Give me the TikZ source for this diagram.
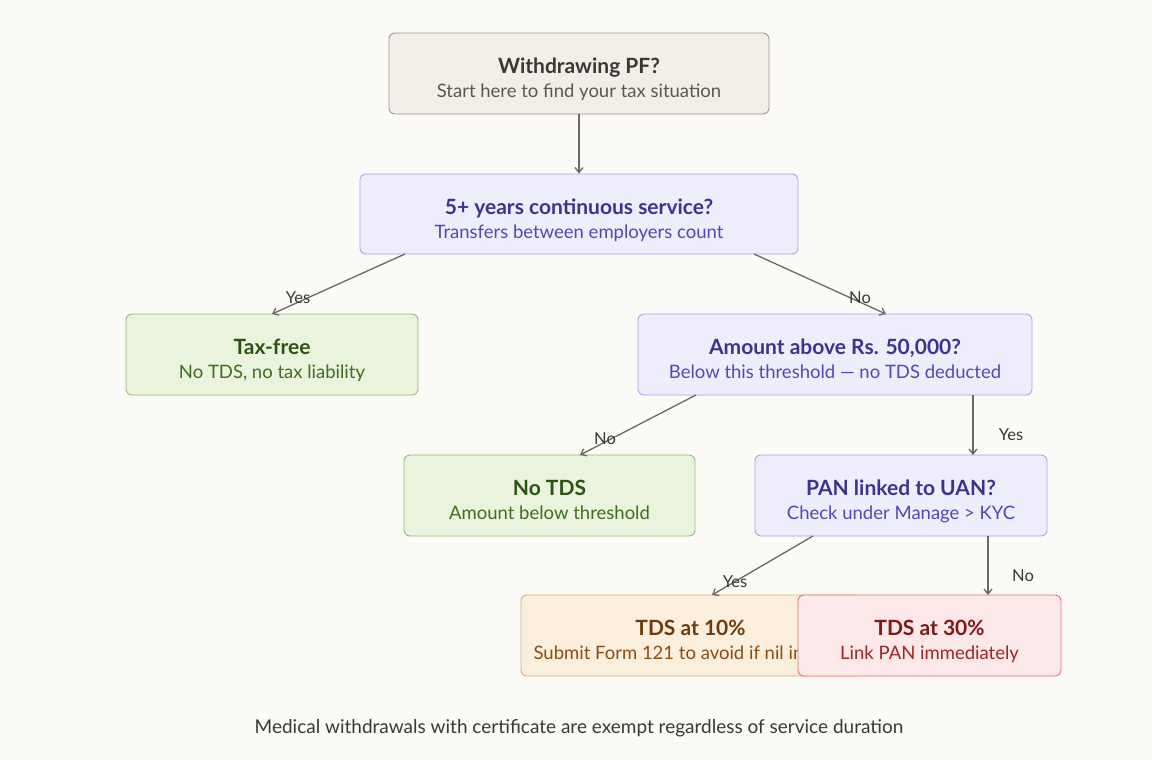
\documentclass[tikz,border=0pt]{standalone}
\usepackage{fontspec}
\setmainfont{Lato}
\usetikzlibrary{arrows.meta}
\definecolor{bg}{HTML}{FBFAF7}
\definecolor{gyF}{HTML}{F1EEE8}\definecolor{gyD}{HTML}{9E9A93}\definecolor{gyT}{HTML}{3A3835}\definecolor{gyS}{HTML}{5A5853}
\definecolor{puF}{HTML}{EEEDFC}\definecolor{puD}{HTML}{A8A3EE}\definecolor{puT}{HTML}{3A3490}\definecolor{puS}{HTML}{5048B8}
\definecolor{grF}{HTML}{E9F3DD}\definecolor{grD}{HTML}{8FBF73}\definecolor{grT}{HTML}{2B5512}\definecolor{grS}{HTML}{3F6E1E}
\definecolor{orF}{HTML}{FBEEDC}\definecolor{orD}{HTML}{E3A862}\definecolor{orT}{HTML}{6E3C0C}\definecolor{orS}{HTML}{8A4E10}
\definecolor{reF}{HTML}{FCE8E8}\definecolor{reD}{HTML}{E07474}\definecolor{reT}{HTML}{801818}\definecolor{reS}{HTML}{A02424}
\tikzset{x=1pt,y=-1pt,
box/.style n args={3}{draw=#1D,fill=#1F,rounded corners=6pt,line width=0.9pt,minimum width=#2pt,minimum height=#3pt,inner sep=0pt},
arr/.style={draw=gyS!90,line width=1.3pt,-{Straight Barb[length=5pt,width=8pt]}},
lab/.style={text=gyT,font=\fontsize{16.5}{18}\selectfont}}
\newcommand{\bx}[8]{%
 \node[box={#1}{#2}{#3}] (#4) at (#5) {};
 \node[text=#1T,font=\fontsize{21}{24}\selectfont\bfseries,anchor=base] at ([yshift=0pt]#4.center) {#6};
 \node[text=#1S,font=\fontsize{18.5}{20}\selectfont,anchor=base] at ([yshift=-24pt]#4.center) {#7};}
\begin{document}
\begin{tikzpicture}
\fill[bg] (0,0) rectangle (1152,760);
\useasboundingbox (0,0) rectangle (1152,760);
\bx{gy}{380}{81}{start}{579,73.5}{Withdrawing PF?}{Start here to find your tax situation}{}
\bx{pu}{438}{80}{svc}{579,214}{5+ years continuous service?}{Transfers between employers count}{}
\bx{gr}{292}{81}{free}{272,354.5}{Tax-free}{No TDS, no tax liability}{}
\bx{pu}{394}{81}{amt}{835,354.5}{Amount above Rs. 50,000?}{Below this threshold — no TDS deducted}{}
\bx{gr}{291}{81}{notds}{549.5,495.5}{No TDS}{Amount below threshold}{}
\bx{pu}{292}{81}{pan}{901,495.5}{PAN linked to UAN?}{Check under Manage > KYC}{}
\bx{or}{339}{81}{t10}{690.5,635.5}{TDS at 10\%}{Submit Form 121 to avoid if nil income}{}
\bx{re}{263}{81}{t30}{929.5,635.5}{TDS at 30\%}{Link PAN immediately}{}
\coordinate (a1) at (405,254); \coordinate (a2) at (754,254);
\coordinate (b1) at (696,395); \coordinate (b2) at (973,395);
\coordinate (c1) at (813,536); \coordinate (c2) at (988,536);
\draw[arr] (start.south) -- (svc.north);
\draw[arr] (a1) -- (272,314);
\draw[arr] (a2) -- (886,314);
\draw[arr] (b1) -- (580,455);
\draw[arr] (b2) -- (973,455);
\draw[arr] (c1) -- (712,595);
\draw[arr] (c2) -- (988,595);
\node[lab] at (298,298) {Yes};
\node[lab] at (860,298) {No};
\node[lab] at (605,439) {No};
\node[lab] at (1011,435) {Yes};
\node[lab] at (735,582) {Yes};
\node[lab] at (1023,576) {No};
\node[text=gyT,font=\fontsize{19}{22}\selectfont] (foot) at (579,728) {Medical withdrawals with certificate are exempt regardless of service duration};
\end{tikzpicture}
\end{document}
